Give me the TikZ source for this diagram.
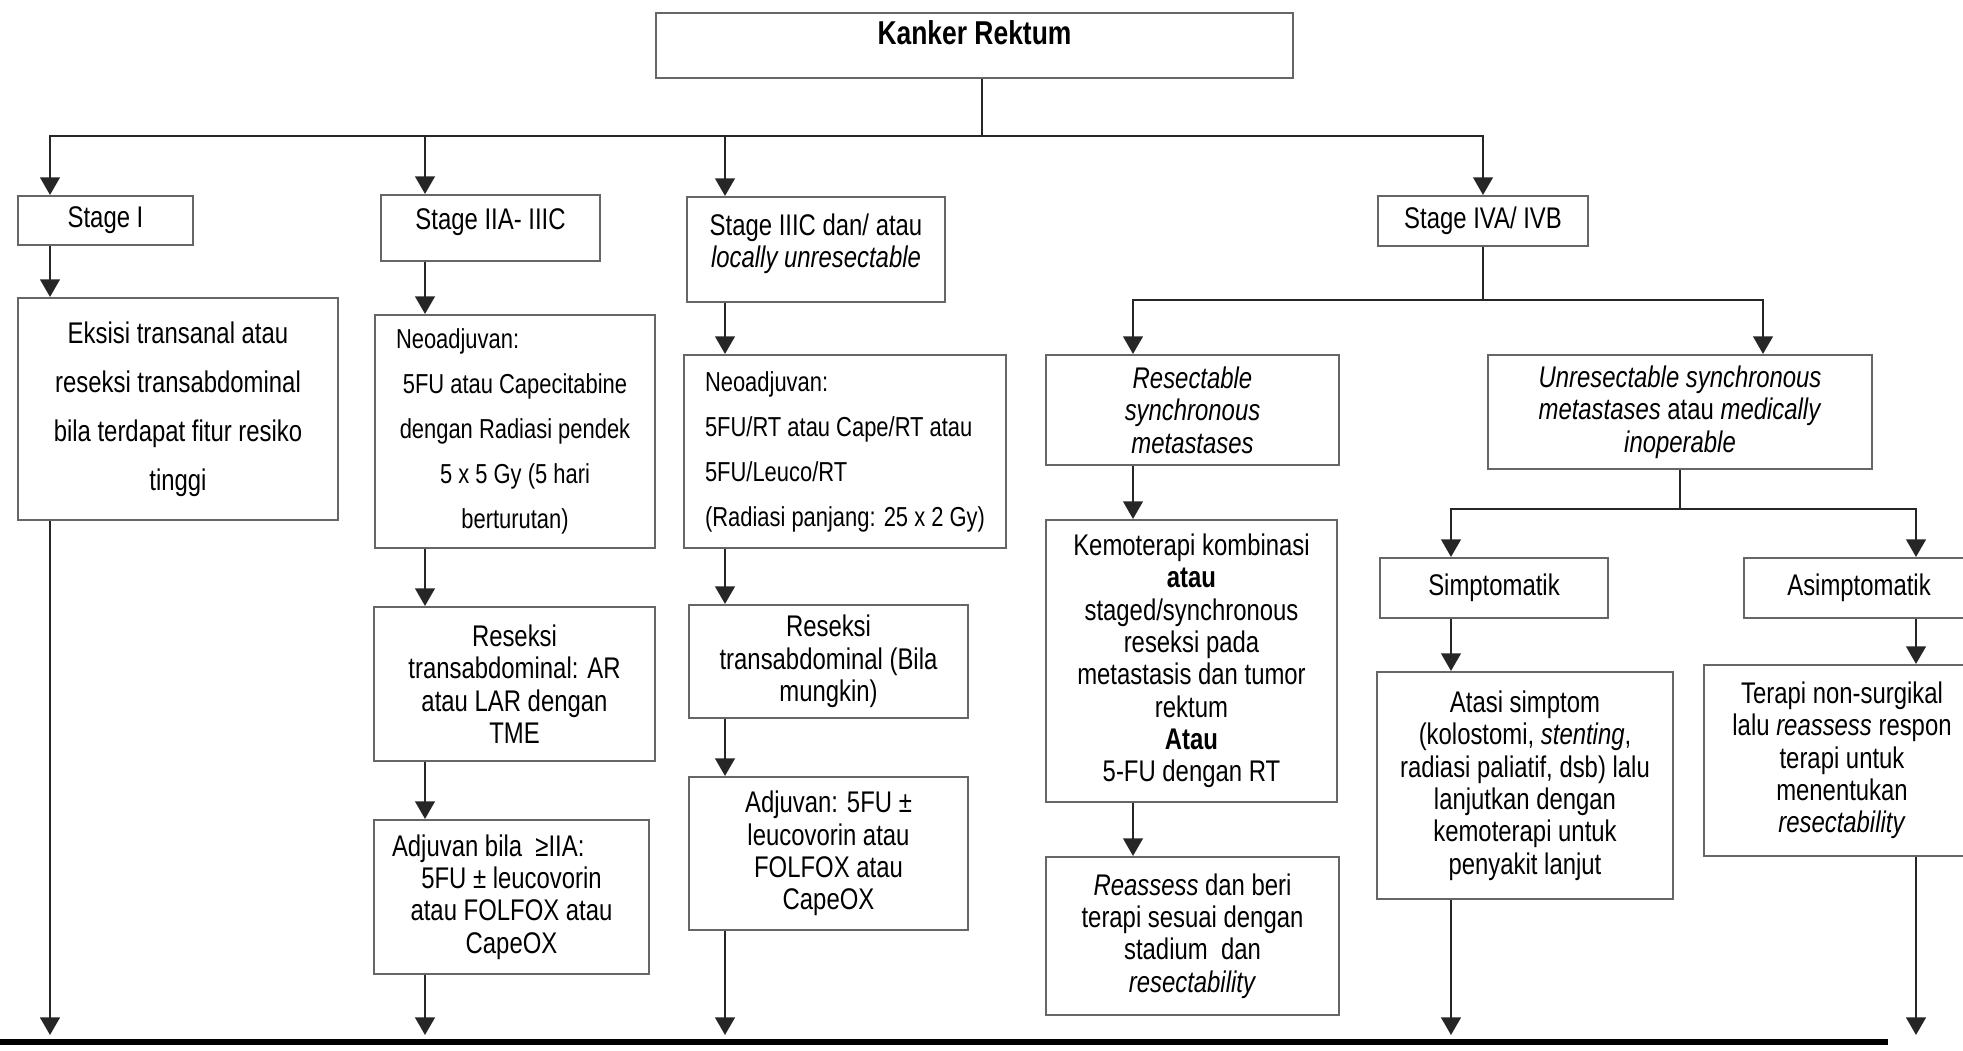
\documentclass[tikz,border=0pt]{standalone}
\usepackage{fontspec}
\setmainfont{Liberation Sans}[FakeStretch=0.8]
\usetikzlibrary{arrows.meta,positioning,calc}

\begin{document}
\begin{tikzpicture}[
    box/.style={draw=black!60, line width=0.6pt, fill=white, align=center, inner sep=0pt, text=black, font=\fontsize{8.5}{9.2}\selectfont},
    spaced/.style={font=\fontsize{8.5}{13.9}\selectfont},
    neo/.style={font=\fontsize{7.8}{12.8}\selectfont},
    link/.style={draw=black!85, line width=0.6pt, line join=miter},
    arr/.style={link, -{Triangle[length=5pt,width=5.6pt]}},
    tobar/.style={arr, shorten >=0.07cm}
]
        \useasboundingbox (0,0) rectangle (19.63,-10.5);
        \clip (0,0) rectangle (19.63,-10.5);

        % Lanes
        \coordinate (lane0) at (9.82,0);
        \coordinate (lane1) at (0.50,0);
        \coordinate (lane2) at (4.25,0);
        \coordinate (lane3) at (7.25,0);
        \coordinate (lane4) at (11.33,0);
        \coordinate (lane5) at (14.51,0);
        \coordinate (lane6) at (17.63,0);
        \coordinate (lane7) at (19.16,0);
        \coordinate (bar) at (0,-10.42);
        \coordinate (barend) at (18.88,0);

        % Kanker Rektum
        \node[box, minimum width=6.37cm, minimum height=0.65cm, text depth=0.25cm, font=\fontsize{9.4}{11}\selectfont\bfseries] (kr) at (9.745,-0.455) {Kanker Rektum};

        % Stages
        \node[box, minimum width=1.75cm, minimum height=0.49cm] (s1) at (1.055,-2.205) {Stage I};
        \node[box, minimum width=2.19cm, minimum height=0.66cm, text depth=0.17cm] (s2) at (4.905,-2.28) {Stage IIA- IIIC};
        \node[box, minimum width=2.58cm, minimum height=1.05cm] (s3) at (8.16,-2.495) {Stage IIIC dan/ atau\\ \textit{locally unresectable}\\[-4pt]\mbox{}};
        \node[box, minimum width=2.10cm, minimum height=0.50cm] (s4) at (14.83,-2.21) {Stage IVA/ IVB};

        % Stage I
        \node[box, spaced, minimum width=3.20cm, minimum height=2.22cm] (eks) at (1.78,-4.09) {Eksisi transanal atau\\ reseksi transabdominal\\ bila terdapat fitur resiko\\ tinggi};

        % Stage IIA- IIIC
        \node[box, neo, minimum width=2.80cm, minimum height=2.33cm] (neo1) at (5.15,-4.315) {\makebox[2.38cm][l]{Neoadjuvan:}\\ 5FU atau Capecitabine\\ dengan Radiasi pendek\\ 5 x 5 Gy (5 hari\\ berturutan)};
        \node[box, minimum width=2.81cm, minimum height=1.54cm] (res1) at (5.145,-6.84) {Reseksi\\ transabdominal: AR\\ atau LAR dengan\\ TME};
        \node[box, minimum width=2.75cm, minimum height=1.54cm] (adj1) at (5.115,-8.97) {\makebox[2.39cm][l]{Adjuvan bila~ ≥IIA:}\\ 5FU ± leucovorin\\ atau FOLFOX atau\\ CapeOX};

        % Stage IIIC
        \node[box, neo, align=left, minimum width=3.22cm, minimum height=1.93cm] (neo2) at (8.45,-4.515) {Neoadjuvan:\\ 5FU/RT atau Cape/RT atau\\ 5FU/Leuco/RT\\ (Radiasi panjang: 25 x 2 Gy)};
        \node[box, minimum width=2.79cm, minimum height=1.13cm] (res2) at (8.285,-6.615) {Reseksi\\ transabdominal (Bila\\ mungkin)};
        \node[box, minimum width=2.79cm, minimum height=1.53cm] (adj2) at (8.285,-8.535) {Adjuvan: 5FU ±\\ leucovorin atau\\ FOLFOX atau\\ CapeOX};

        % Stage IVA/ IVB
        \node[box, minimum width=2.93cm, minimum height=1.10cm] (rsm) at (11.925,-4.10) {\textit{Resectable}\\ \textit{synchronous}\\ \textit{metastases}};
        \node[box, minimum width=2.91cm, minimum height=2.82cm] (kemo) at (11.915,-6.61) {Kemoterapi kombinasi\\ \textbf{atau}\\ staged/synchronous\\ reseksi pada\\ metastasis dan tumor\\ rektum\\ \textbf{Atau}\\ 5-FU dengan RT};
        \node[box, minimum width=2.93cm, minimum height=1.58cm] (reas) at (11.925,-9.36) {\textit{Reassess} dan beri\\ terapi sesuai dengan\\ stadium~ dan\\ \textit{resectability}};
        \node[box, minimum width=3.84cm, minimum height=1.14cm] (unr) at (16.80,-4.12) {\textit{Unresectable synchronous}\\ \textit{metastases} atau \textit{medically}\\ \textit{inoperable}};
        \node[box, minimum width=2.28cm, minimum height=0.60cm] (simp) at (14.94,-5.88) {Simptomatik};
        \node[box, minimum width=2.30cm, minimum height=0.60cm] (asim) at (18.59,-5.88) {Asimptomatik};
        \node[box, minimum width=2.96cm, minimum height=2.27cm] (atasi) at (15.25,-7.855) {Atasi simptom\\ (kolostomi, \textit{stenting},\\ radiasi paliatif, dsb) lalu\\ lanjutkan dengan\\ kemoterapi untuk\\ penyakit lanjut};
        \node[box, minimum width=2.76cm, minimum height=1.91cm] (terapi) at (18.42,-7.605) {Terapi non-surgikal\\ lalu \textit{reassess} respon\\ terapi untuk\\ menentukan\\ \textit{resectability}};

        % Branches to stages
        \draw[link] (kr.south -| lane0) -- ++(0,-0.57) coordinate (fork1);
        \draw[arr] (fork1) -- (fork1 -| lane1) -- (s1.north -| lane1);
        \draw[arr] (fork1) -- (fork1 -| s4.north) -- (s4.north);
        \draw[arr] (fork1 -| lane2) -- (s2.north -| lane2);
        \draw[arr] (fork1 -| lane3) -- (s3.north -| lane3);

        % Columns
        \draw[arr] (s1.south -| lane1) -- (eks.north -| lane1);
        \draw[arr] (s2.south -| lane2) -- (neo1.north -| lane2);
        \draw[arr] (neo1.south -| lane2) -- (res1.north -| lane2);
        \draw[arr] (res1.south -| lane2) -- (adj1.north -| lane2);
        \draw[arr] (s3.south -| lane3) -- (neo2.north -| lane3);
        \draw[arr] (neo2.south -| lane3) -- (res2.north -| lane3);
        \draw[arr] (res2.south -| lane3) -- (adj2.north -| lane3);

        % Stage IV branches
        \draw[link] (s4.south) -- ++(0,-0.53) coordinate (fork2);
        \draw[arr] (fork2) -- (fork2 -| lane4) -- (rsm.north -| lane4);
        \draw[arr] (fork2) -- (fork2 -| lane6) -- (unr.north -| lane6);
        \draw[arr] (rsm.south -| lane4) -- (kemo.north -| lane4);
        \draw[arr] (kemo.south -| lane4) -- (reas.north -| lane4);
        \draw[link] (unr.south) -- ++(0,-0.39) coordinate (fork3);
        \draw[arr] (fork3) -- (fork3 -| lane5) -- (simp.north -| lane5);
        \draw[arr] (fork3) -- (fork3 -| lane7) -- (asim.north -| lane7);
        \draw[arr] (simp.south -| lane5) -- (atasi.north -| lane5);
        \draw[arr] (asim.south -| lane7) -- (terapi.north -| lane7);

        % Down to the next step
        \draw[line width=1.6pt] (bar) -- (bar -| barend);
        \draw[tobar] (eks.south -| lane1) -- (bar -| lane1);
        \draw[tobar] (adj1.south -| lane2) -- (bar -| lane2);
        \draw[tobar] (adj2.south -| lane3) -- (bar -| lane3);
        \draw[tobar] (atasi.south -| lane5) -- (bar -| lane5);
        \draw[tobar] (terapi.south -| lane7) -- (bar -| lane7);
\end{tikzpicture}
\end{document}
